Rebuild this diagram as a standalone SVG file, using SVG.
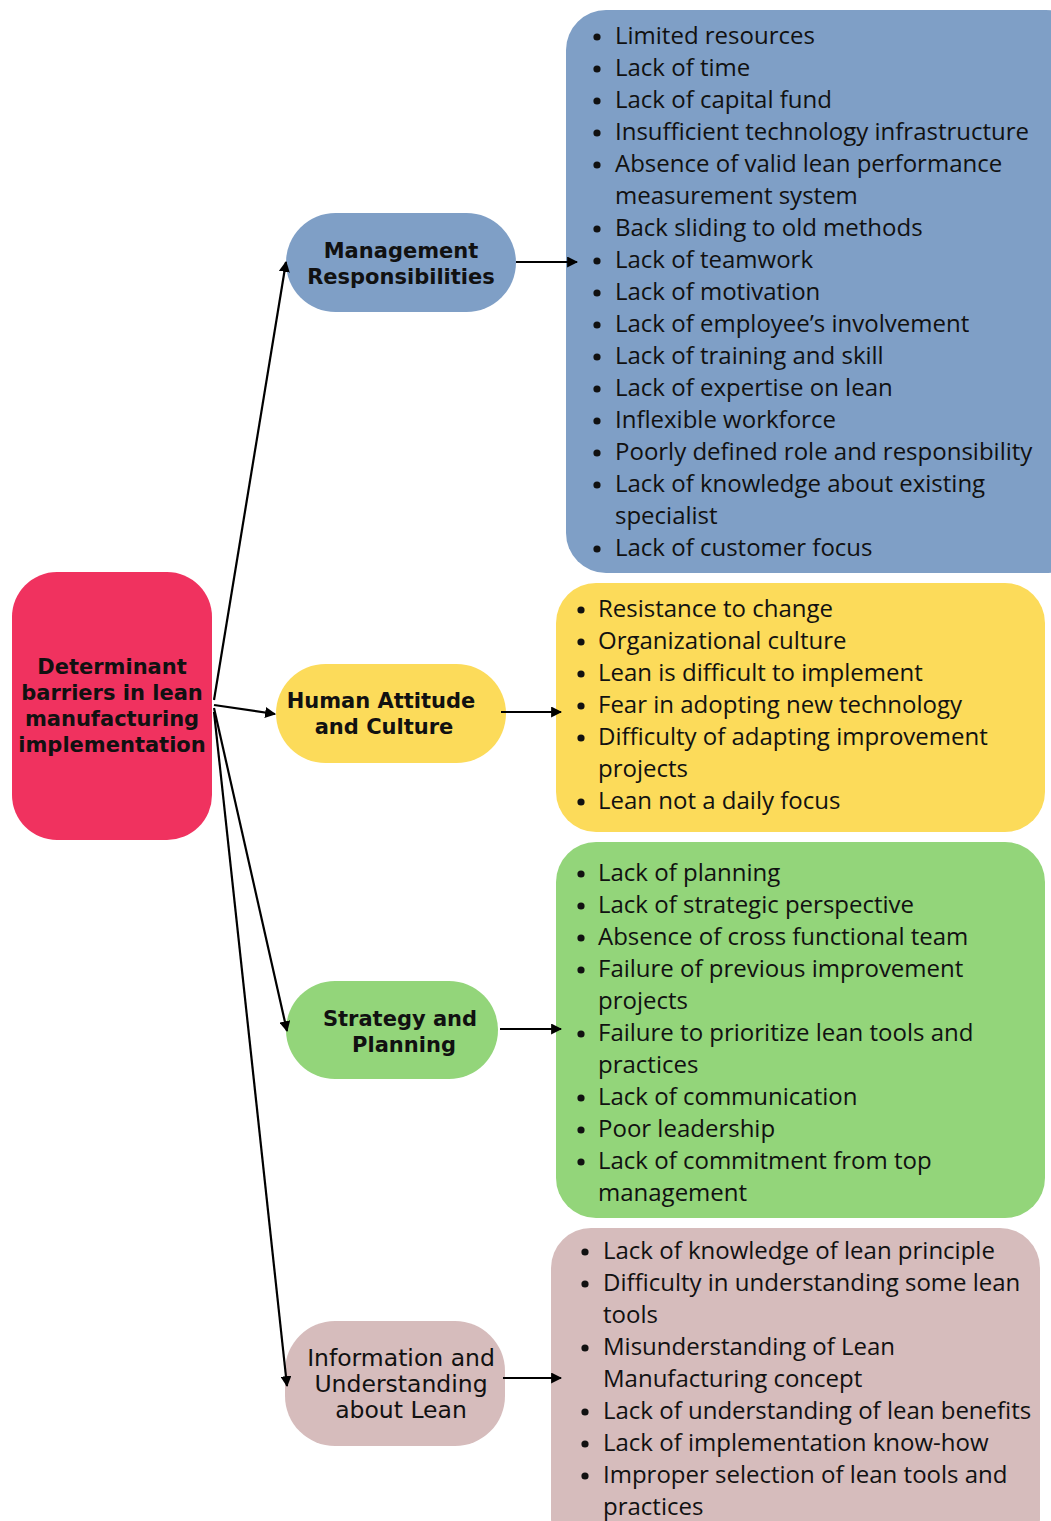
<svg xmlns="http://www.w3.org/2000/svg" width="1051" height="1521" viewBox="0 0 1051 1521">
<style>
.node text{font-family:"DejaVu Sans",Verdana,sans-serif;font-size:21px;text-anchor:middle;fill:#111;}
.b text{font-weight:bold;}
.reg text{font-size:23.5px;}
.list text{font-family:"Open Sans","Noto Sans",sans-serif;font-size:24px;fill:#111;}
.list circle{fill:#111;}
.conn line{stroke:#000;stroke-width:2.2;}
</style>
<defs>
<marker id="ah" viewBox="0 0 10 10" refX="9" refY="5" markerWidth="5" markerHeight="5" orient="auto" markerUnits="strokeWidth">
<path d="M0,0 L10,5 L0,10 z" fill="#000"/>
</marker>
</defs>
<rect width="1051" height="1521" fill="#fff"/>

<g id="list-management" class="list">
<rect x="566" y="10" width="520" height="563" rx="40" fill="#7F9FC6"/>
<circle cx="597" cy="37" r="3.6"/><text x="615" y="44">Limited resources</text>
<circle cx="597" cy="69" r="3.6"/><text x="615" y="76">Lack of time</text>
<circle cx="597" cy="101" r="3.6"/><text x="615" y="108">Lack of capital fund</text>
<circle cx="597" cy="133" r="3.6"/><text x="615" y="140">Insufficient technology infrastructure</text>
<circle cx="597" cy="165" r="3.6"/><text x="615" y="172">Absence of valid lean performance</text>
<text x="615" y="204">measurement system</text>
<circle cx="597" cy="229" r="3.6"/><text x="615" y="236">Back sliding to old methods</text>
<circle cx="597" cy="261" r="3.6"/><text x="615" y="268">Lack of teamwork</text>
<circle cx="597" cy="293" r="3.6"/><text x="615" y="300">Lack of motivation</text>
<circle cx="597" cy="325" r="3.6"/><text x="615" y="332">Lack of employee’s involvement</text>
<circle cx="597" cy="357" r="3.6"/><text x="615" y="364">Lack of training and skill</text>
<circle cx="597" cy="389" r="3.6"/><text x="615" y="396">Lack of expertise on lean</text>
<circle cx="597" cy="421" r="3.6"/><text x="615" y="428">Inflexible workforce</text>
<circle cx="597" cy="453" r="3.6"/><text x="615" y="460">Poorly defined role and responsibility</text>
<circle cx="597" cy="485" r="3.6"/><text x="615" y="492">Lack of knowledge about existing</text>
<text x="615" y="524">specialist</text>
<circle cx="597" cy="549" r="3.6"/><text x="615" y="556">Lack of customer focus</text>
</g>

<g id="list-human" class="list">
<rect x="556" y="583" width="489" height="249" rx="40" fill="#FCDB5A"/>
<circle cx="581" cy="610" r="3.6"/><text x="598" y="617">Resistance to change</text>
<circle cx="581" cy="642" r="3.6"/><text x="598" y="649">Organizational culture</text>
<circle cx="581" cy="674" r="3.6"/><text x="598" y="681">Lean is difficult to implement</text>
<circle cx="581" cy="706" r="3.6"/><text x="598" y="713">Fear in adopting new technology</text>
<circle cx="581" cy="738" r="3.6"/><text x="598" y="745">Difficulty of adapting improvement</text>
<text x="598" y="777">projects</text>
<circle cx="581" cy="802" r="3.6"/><text x="598" y="809">Lean not a daily focus</text>
</g>

<g id="list-strategy" class="list">
<rect x="556" y="842" width="489" height="376" rx="40" fill="#93D57A"/>
<circle cx="581" cy="874" r="3.6"/><text x="598" y="881">Lack of planning</text>
<circle cx="581" cy="906" r="3.6"/><text x="598" y="913">Lack of strategic perspective</text>
<circle cx="581" cy="938" r="3.6"/><text x="598" y="945">Absence of cross functional team</text>
<circle cx="581" cy="970" r="3.6"/><text x="598" y="977">Failure of previous improvement</text>
<text x="598" y="1009">projects</text>
<circle cx="581" cy="1034" r="3.6"/><text x="598" y="1041">Failure to prioritize lean tools and</text>
<text x="598" y="1073">practices</text>
<circle cx="581" cy="1098" r="3.6"/><text x="598" y="1105">Lack of communication</text>
<circle cx="581" cy="1130" r="3.6"/><text x="598" y="1137">Poor leadership</text>
<circle cx="581" cy="1162" r="3.6"/><text x="598" y="1169">Lack of commitment from top</text>
<text x="598" y="1201">management</text>
</g>

<g id="list-information" class="list">
<rect x="551" y="1228" width="489" height="330" rx="40" fill="#D6BCBC"/>
<circle cx="585" cy="1252" r="3.6"/><text x="603" y="1259">Lack of knowledge of lean principle</text>
<circle cx="585" cy="1284" r="3.6"/><text x="603" y="1291">Difficulty in understanding some lean</text>
<text x="603" y="1323">tools</text>
<circle cx="585" cy="1348" r="3.6"/><text x="603" y="1355">Misunderstanding of Lean</text>
<text x="603" y="1387">Manufacturing concept</text>
<circle cx="585" cy="1412" r="3.6"/><text x="603" y="1419">Lack of understanding of lean benefits</text>
<circle cx="585" cy="1444" r="3.6"/><text x="603" y="1451">Lack of implementation know-how</text>
<circle cx="585" cy="1476" r="3.6"/><text x="603" y="1483">Improper selection of lean tools and</text>
<text x="603" y="1515">practices</text>
</g>

<g id="root" class="node b">
<rect x="12" y="572" width="200" height="268" rx="45" fill="#F0325F"/>
<text x="112" y="674">Determinant</text>
<text x="112" y="700">barriers in lean</text>
<text x="112" y="726">manufacturing</text>
<text x="112" y="752">implementation</text>
</g>

<g id="management" class="node b">
<rect x="286" y="213" width="230" height="99" rx="49.5" fill="#7F9FC6"/>
<text x="401" y="258">Management</text>
<text x="401" y="284">Responsibilities</text>
</g>

<g id="human" class="node b">
<rect x="276" y="664" width="230" height="99" rx="49.5" fill="#FCDB5A"/>
<text x="381" y="708">Human Attitude</text>
<text x="384" y="734">and Culture</text>
</g>

<g id="strategy" class="node b">
<rect x="286" y="981" width="212" height="98" rx="49" fill="#93D57A"/>
<text x="400" y="1026">Strategy and</text>
<text x="404" y="1052">Planning</text>
</g>

<g id="information" class="node reg">
<rect x="285" y="1321" width="220" height="125" rx="50" fill="#D6BCBC"/>
<text x="401" y="1366">Information and</text>
<text x="401" y="1392">Understanding</text>
<text x="401" y="1418">about Lean</text>
</g>

<g id="connectors" class="conn">
<line x1="214" y1="700" x2="286" y2="262" marker-end="url(#ah)"/>
<line x1="214" y1="705" x2="275" y2="714" marker-end="url(#ah)"/>
<line x1="214" y1="708" x2="287" y2="1031" marker-end="url(#ah)"/>
<line x1="214" y1="712" x2="287" y2="1386" marker-end="url(#ah)"/>
<line x1="516" y1="262" x2="577" y2="262" marker-end="url(#ah)"/>
<line x1="501" y1="712" x2="561" y2="712" marker-end="url(#ah)"/>
<line x1="500" y1="1029" x2="561" y2="1029" marker-end="url(#ah)"/>
<line x1="503" y1="1378" x2="561" y2="1378" marker-end="url(#ah)"/>
</g>
</svg>
